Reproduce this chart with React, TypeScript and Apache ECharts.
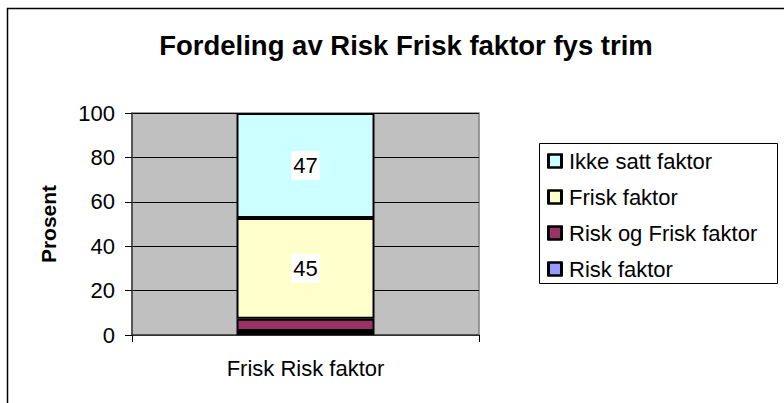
import React, { useEffect, useRef } from "react";
import * as echarts from "echarts";

const titleText = "Fordeling av Risk Frisk faktor fys trim";
const yAxisName = "Prosent";
const categories = ["Frisk Risk faktor"];
const riskFaktor = [1.8];
const riskOgFriskFaktor = [5.5];
const friskFaktor = [45.4];
const ikkeSattFaktor = [47.3];
const yMin = 0;
const yMax = 100;
const yInterval = 20;
const legendOrder = ["Ikke satt faktor", "Frisk faktor", "Risk og Frisk faktor", "Risk faktor"];

const FONT = "'Liberation Sans', Arial, sans-serif";

export default function App() {
  const ref = useRef<HTMLDivElement>(null);
  useEffect(() => {
    if (!ref.current) return;
    const chart = echarts.init(ref.current, undefined, { renderer: "svg" });
    const mk = (name: string, data: number[], color: string, showLabel: boolean) => ({
      name,
      type: "bar",
      stack: "total",
      data,
      barWidth: 138,
      itemStyle: { color, borderColor: "#000", borderWidth: 2 },
      label: {
        show: showLabel,
        position: "inside",
        formatter: (p: any) => String(Math.round(p.value)),
        color: "#000",
        fontFamily: FONT,
        fontSize: 22,
        backgroundColor: "#fff",
        padding: [4, 2, 3, 2],
      },
      emphasis: { disabled: true },
    });
    const legendTop = 150;
    const rowH = 22;
    const gap = 14;
    const iconSize = 13;
    const iconLeft = 548;
    const iconOutlines = legendOrder.map((_, i) => ({
      type: "rect",
      shape: {
        x: iconLeft,
        y: legendTop + i * (rowH + gap) + (rowH - iconSize) / 2,
        width: iconSize,
        height: iconSize,
      },
      style: { fill: "none", stroke: "#000", lineWidth: 2 },
      silent: true,
      z: 100,
    }));
    chart.setOption({
      animation: false,
      backgroundColor: "#fff",
      textStyle: { fontFamily: FONT },
      grid: {
        left: 132,
        right: 305,
        top: 113,
        bottom: 68,
        show: true,
        backgroundColor: "#C0C0C0",
        borderColor: "#808080",
        borderWidth: 1.5,
      },
      legend: {
        data: legendOrder.map((name) => ({
          name,
          itemStyle: { borderColor: "#000", borderWidth: 2 },
        })),
        orient: "vertical",
        left: iconLeft,
        top: legendTop,
        padding: 0,
        itemWidth: iconSize,
        itemHeight: iconSize,
        itemGap: gap,
        icon: "rect",
        itemStyle: { borderColor: "#000", borderWidth: 2 },
        textStyle: { fontFamily: FONT, fontSize: 22, lineHeight: rowH, color: "#000", padding: [0, 0, 0, 2] },
        selectedMode: false,
      },
      xAxis: {
        type: "category",
        data: categories,
        axisLine: { show: true, lineStyle: { color: "#404040", width: 1.5 } },
        axisTick: { show: true, alignWithLabel: false, length: 7, lineStyle: { color: "#000" } },
        axisLabel: { color: "#000", fontFamily: FONT, fontSize: 22, margin: 22 },
      },
      yAxis: {
        type: "value",
        min: yMin,
        max: yMax,
        interval: yInterval,
        axisLine: { show: true, lineStyle: { color: "#404040", width: 1.5 } },
        axisTick: { show: true, length: 7, lineStyle: { color: "#000" } },
        axisLabel: { color: "#000", fontFamily: FONT, fontSize: 22, margin: 17 },
        splitLine: { show: true, lineStyle: { color: "#000", width: 1 } },
      },
      graphic: [
        {
          type: "rect",
          shape: { x: 7.5, y: 8.5, width: 900, height: 600 },
          style: { fill: "none", stroke: "#000", lineWidth: 1.5 },
          silent: true,
        },
        {
          type: "rect",
          shape: { x: 539.5, y: 143.5, width: 238, height: 140 },
          style: { fill: "#fff", stroke: "#000", lineWidth: 1 },
          silent: true,
          z: -1,
        },
        ...iconOutlines,
        {
          type: "text",
          x: 406,
          y: 45,
          style: {
            text: titleText,
            font: `bold 27.5px ${FONT}`,
            fill: "#000",
            align: "center",
            verticalAlign: "middle",
          },
          silent: true,
        },
        {
          type: "text",
          x: 48,
          y: 224,
          rotation: Math.PI / 2,
          style: {
            text: yAxisName,
            font: `bold 21px ${FONT}`,
            fill: "#000",
            align: "center",
            verticalAlign: "middle",
          },
          silent: true,
        },
      ],
      series: [
        mk("Risk faktor", riskFaktor, "#9999FF", false),
        mk("Risk og Frisk faktor", riskOgFriskFaktor, "#993366", false),
        mk("Frisk faktor", friskFaktor, "#FFFFCC", true),
        mk("Ikke satt faktor", ikkeSattFaktor, "#CCFFFF", true),
      ],
    });
    return () => chart.dispose();
  }, []);
  return (
    <div
      ref={ref}
      style={{ position: "fixed", left: 0, top: 0, width: 784, height: 403 }}
    />
  );
}
